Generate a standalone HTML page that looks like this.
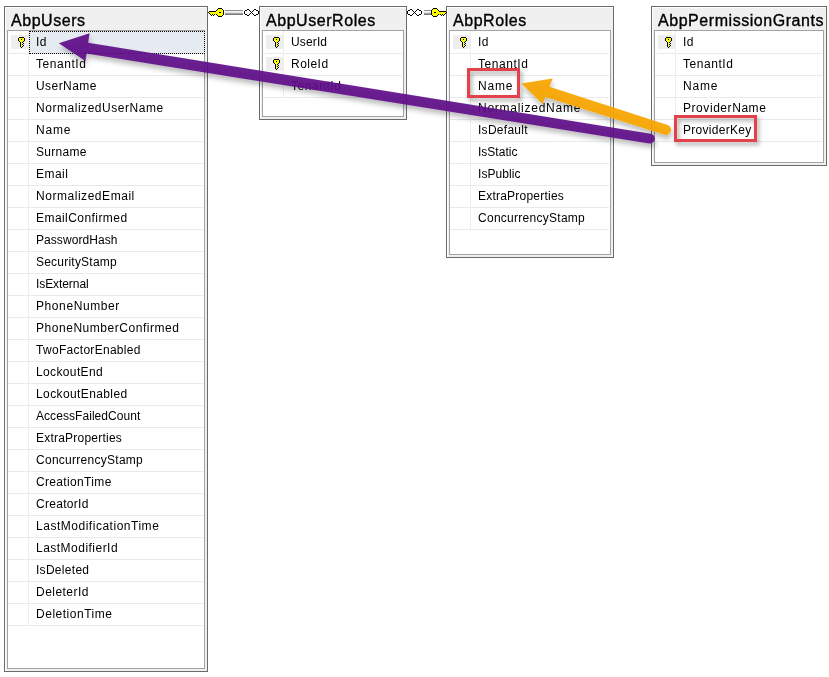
<!DOCTYPE html>
<html><head><meta charset="utf-8">
<style>
html,body{margin:0;padding:0;background:#fff;}
body{width:829px;height:677px;position:relative;overflow:hidden;will-change:transform;font-family:"Liberation Sans",sans-serif;}
.t{position:absolute;box-sizing:border-box;border:1px solid #6a6a6a;background:#f0f0f0;box-shadow:inset 1px 1px 0 #fff;}
.g{position:absolute;box-sizing:border-box;border:1px solid #a3a3a3;background:#fff;}
.ti{position:absolute;font-size:16px;line-height:16px;color:#000;white-space:nowrap;letter-spacing:0.55px;-webkit-text-stroke:0.35px #000;}
.r{position:absolute;font-size:12px;line-height:12px;color:#000;white-space:nowrap;letter-spacing:0.36px;}
.hl{position:absolute;height:1px;background:#eaeaea;}
.vl{position:absolute;width:1px;background:#eeeeee;}
.kb{position:absolute;background:#eeeeee;}
.k{position:absolute;}
.sel{position:absolute;box-sizing:border-box;background:#e6ebf1;border:1px dotted #000;}
svg{position:absolute;left:0;top:0;overflow:visible;}
</style></head><body>

<div class="t" style="left:4px;top:6px;width:204px;height:666px"></div>
<div class="g" style="left:7px;top:30px;width:198px;height:639px"></div>
<div class="ti" style="left:11px;top:13px">AbpUsers</div>
<div class="hl" style="left:8px;top:53px;width:195px"></div>
<div class="sel" style="left:29px;top:31px;width:176px;height:23px"></div>
<div class="kb" style="left:11px;top:35px;width:17px;height:14px"></div>
<svg class="k" style="left:18px;top:37px" width="7" height="11" viewBox="0 0 7 11" shape-rendering="crispEdges"><path fill="#ffff00" d="M1 1h5v3h-1v1h-1v5h-1v-9z M1 1h5v3h-5z"/><path fill="#000" d="M1 0h5v1h-5z M0 1h1v3h-1z M6 1h1v3h-1z M3 2h1v1h-1z M1 4h1v1h-1z M5 4h1v1h-1z M2 5h1v5h-1z M4 5h1v1h-1z M5 6h1v1h-1z M4 7h1v1h-1z M5 8h1v1h-1z M4 9h1v1h-1z M3 10h1v1h-1z"/></svg>
<div class="r" style="left:36px;top:36px;letter-spacing:0.40px">Id</div>
<div class="hl" style="left:8px;top:75px;width:195px"></div>
<div class="r" style="left:36px;top:58px;letter-spacing:0.54px">TenantId</div>
<div class="hl" style="left:8px;top:97px;width:195px"></div>
<div class="r" style="left:36px;top:80px;letter-spacing:0.44px">UserName</div>
<div class="hl" style="left:8px;top:119px;width:195px"></div>
<div class="r" style="left:36px;top:102px;letter-spacing:0.54px">NormalizedUserName</div>
<div class="hl" style="left:8px;top:141px;width:195px"></div>
<div class="r" style="left:36px;top:124px;letter-spacing:0.80px">Name</div>
<div class="hl" style="left:8px;top:163px;width:195px"></div>
<div class="r" style="left:36px;top:146px;letter-spacing:0.30px">Surname</div>
<div class="hl" style="left:8px;top:185px;width:195px"></div>
<div class="r" style="left:36px;top:168px;letter-spacing:0.45px">Email</div>
<div class="hl" style="left:8px;top:207px;width:195px"></div>
<div class="r" style="left:36px;top:190px;letter-spacing:0.54px">NormalizedEmail</div>
<div class="hl" style="left:8px;top:229px;width:195px"></div>
<div class="r" style="left:36px;top:212px;letter-spacing:0.44px">EmailConfirmed</div>
<div class="hl" style="left:8px;top:251px;width:195px"></div>
<div class="r" style="left:36px;top:234px;letter-spacing:0.06px">PasswordHash</div>
<div class="hl" style="left:8px;top:273px;width:195px"></div>
<div class="r" style="left:36px;top:256px;letter-spacing:0.22px">SecurityStamp</div>
<div class="hl" style="left:8px;top:295px;width:195px"></div>
<div class="r" style="left:36px;top:278px;letter-spacing:-0.08px">IsExternal</div>
<div class="hl" style="left:8px;top:317px;width:195px"></div>
<div class="r" style="left:36px;top:300px;letter-spacing:0.59px">PhoneNumber</div>
<div class="hl" style="left:8px;top:339px;width:195px"></div>
<div class="r" style="left:36px;top:322px;letter-spacing:0.54px">PhoneNumberConfirmed</div>
<div class="hl" style="left:8px;top:361px;width:195px"></div>
<div class="r" style="left:36px;top:344px;letter-spacing:0.29px">TwoFactorEnabled</div>
<div class="hl" style="left:8px;top:383px;width:195px"></div>
<div class="r" style="left:36px;top:366px;letter-spacing:0.37px">LockoutEnd</div>
<div class="hl" style="left:8px;top:405px;width:195px"></div>
<div class="r" style="left:36px;top:388px;letter-spacing:0.39px">LockoutEnabled</div>
<div class="hl" style="left:8px;top:427px;width:195px"></div>
<div class="r" style="left:36px;top:410px;letter-spacing:0.06px">AccessFailedCount</div>
<div class="hl" style="left:8px;top:449px;width:195px"></div>
<div class="r" style="left:36px;top:432px;letter-spacing:0.22px">ExtraProperties</div>
<div class="hl" style="left:8px;top:471px;width:195px"></div>
<div class="r" style="left:36px;top:454px;letter-spacing:0.27px">ConcurrencyStamp</div>
<div class="hl" style="left:8px;top:493px;width:195px"></div>
<div class="r" style="left:36px;top:476px;letter-spacing:0.34px">CreationTime</div>
<div class="hl" style="left:8px;top:515px;width:195px"></div>
<div class="r" style="left:36px;top:498px;letter-spacing:0.29px">CreatorId</div>
<div class="hl" style="left:8px;top:537px;width:195px"></div>
<div class="r" style="left:36px;top:520px;letter-spacing:0.52px">LastModificationTime</div>
<div class="hl" style="left:8px;top:559px;width:195px"></div>
<div class="r" style="left:36px;top:542px;letter-spacing:0.48px">LastModifierId</div>
<div class="hl" style="left:8px;top:581px;width:195px"></div>
<div class="r" style="left:36px;top:564px;letter-spacing:0.29px">IsDeleted</div>
<div class="hl" style="left:8px;top:603px;width:195px"></div>
<div class="r" style="left:36px;top:586px;letter-spacing:0.46px">DeleterId</div>
<div class="hl" style="left:8px;top:625px;width:195px"></div>
<div class="r" style="left:36px;top:608px;letter-spacing:0.52px">DeletionTime</div>
<div class="vl" style="left:28px;top:31px;height:594px"></div>
<div class="t" style="left:259px;top:6px;width:148px;height:114px"></div>
<div class="g" style="left:262px;top:30px;width:142px;height:87px"></div>
<div class="ti" style="left:266px;top:13px">AbpUserRoles</div>
<div class="hl" style="left:263px;top:53px;width:139px"></div>
<div class="kb" style="left:266px;top:35px;width:17px;height:14px"></div>
<svg class="k" style="left:273px;top:37px" width="7" height="11" viewBox="0 0 7 11" shape-rendering="crispEdges"><path fill="#ffff00" d="M1 1h5v3h-1v1h-1v5h-1v-9z M1 1h5v3h-5z"/><path fill="#000" d="M1 0h5v1h-5z M0 1h1v3h-1z M6 1h1v3h-1z M3 2h1v1h-1z M1 4h1v1h-1z M5 4h1v1h-1z M2 5h1v5h-1z M4 5h1v1h-1z M5 6h1v1h-1z M4 7h1v1h-1z M5 8h1v1h-1z M4 9h1v1h-1z M3 10h1v1h-1z"/></svg>
<div class="r" style="left:291px;top:36px;letter-spacing:0.14px">UserId</div>
<div class="hl" style="left:263px;top:75px;width:139px"></div>
<div class="kb" style="left:266px;top:57px;width:17px;height:14px"></div>
<svg class="k" style="left:273px;top:59px" width="7" height="11" viewBox="0 0 7 11" shape-rendering="crispEdges"><path fill="#ffff00" d="M1 1h5v3h-1v1h-1v5h-1v-9z M1 1h5v3h-5z"/><path fill="#000" d="M1 0h5v1h-5z M0 1h1v3h-1z M6 1h1v3h-1z M3 2h1v1h-1z M1 4h1v1h-1z M5 4h1v1h-1z M2 5h1v5h-1z M4 5h1v1h-1z M5 6h1v1h-1z M4 7h1v1h-1z M5 8h1v1h-1z M4 9h1v1h-1z M3 10h1v1h-1z"/></svg>
<div class="r" style="left:291px;top:58px;letter-spacing:0.48px">RoleId</div>
<div class="hl" style="left:263px;top:97px;width:139px"></div>
<div class="r" style="left:291px;top:80px;letter-spacing:0.54px">TenantId</div>
<div class="vl" style="left:283px;top:31px;height:66px"></div>
<div class="t" style="left:446px;top:6px;width:168px;height:252px"></div>
<div class="g" style="left:449px;top:30px;width:162px;height:225px"></div>
<div class="ti" style="left:453px;top:13px">AbpRoles</div>
<div class="hl" style="left:450px;top:53px;width:159px"></div>
<div class="kb" style="left:453px;top:35px;width:17px;height:14px"></div>
<svg class="k" style="left:460px;top:37px" width="7" height="11" viewBox="0 0 7 11" shape-rendering="crispEdges"><path fill="#ffff00" d="M1 1h5v3h-1v1h-1v5h-1v-9z M1 1h5v3h-5z"/><path fill="#000" d="M1 0h5v1h-5z M0 1h1v3h-1z M6 1h1v3h-1z M3 2h1v1h-1z M1 4h1v1h-1z M5 4h1v1h-1z M2 5h1v5h-1z M4 5h1v1h-1z M5 6h1v1h-1z M4 7h1v1h-1z M5 8h1v1h-1z M4 9h1v1h-1z M3 10h1v1h-1z"/></svg>
<div class="r" style="left:478px;top:36px;letter-spacing:0.40px">Id</div>
<div class="hl" style="left:450px;top:75px;width:159px"></div>
<div class="r" style="left:478px;top:58px;letter-spacing:0.54px">TenantId</div>
<div class="hl" style="left:450px;top:97px;width:159px"></div>
<div class="r" style="left:478px;top:80px;letter-spacing:0.80px">Name</div>
<div class="hl" style="left:450px;top:119px;width:159px"></div>
<div class="r" style="left:478px;top:102px;letter-spacing:0.74px">NormalizedName</div>
<div class="hl" style="left:450px;top:141px;width:159px"></div>
<div class="r" style="left:478px;top:124px;letter-spacing:0.28px">IsDefault</div>
<div class="hl" style="left:450px;top:163px;width:159px"></div>
<div class="r" style="left:478px;top:146px;letter-spacing:0.01px">IsStatic</div>
<div class="hl" style="left:450px;top:185px;width:159px"></div>
<div class="r" style="left:478px;top:168px;letter-spacing:0.06px">IsPublic</div>
<div class="hl" style="left:450px;top:207px;width:159px"></div>
<div class="r" style="left:478px;top:190px;letter-spacing:0.22px">ExtraProperties</div>
<div class="hl" style="left:450px;top:229px;width:159px"></div>
<div class="r" style="left:478px;top:212px;letter-spacing:0.27px">ConcurrencyStamp</div>
<div class="vl" style="left:470px;top:31px;height:198px"></div>
<div class="t" style="left:651px;top:6px;width:176px;height:160px"></div>
<div class="g" style="left:654px;top:30px;width:170px;height:133px"></div>
<div class="ti" style="left:658px;top:13px">AbpPermissionGrants</div>
<div class="hl" style="left:655px;top:53px;width:167px"></div>
<div class="kb" style="left:658px;top:35px;width:17px;height:14px"></div>
<svg class="k" style="left:665px;top:37px" width="7" height="11" viewBox="0 0 7 11" shape-rendering="crispEdges"><path fill="#ffff00" d="M1 1h5v3h-1v1h-1v5h-1v-9z M1 1h5v3h-5z"/><path fill="#000" d="M1 0h5v1h-5z M0 1h1v3h-1z M6 1h1v3h-1z M3 2h1v1h-1z M1 4h1v1h-1z M5 4h1v1h-1z M2 5h1v5h-1z M4 5h1v1h-1z M5 6h1v1h-1z M4 7h1v1h-1z M5 8h1v1h-1z M4 9h1v1h-1z M3 10h1v1h-1z"/></svg>
<div class="r" style="left:683px;top:36px;letter-spacing:0.40px">Id</div>
<div class="hl" style="left:655px;top:75px;width:167px"></div>
<div class="r" style="left:683px;top:58px;letter-spacing:0.54px">TenantId</div>
<div class="hl" style="left:655px;top:97px;width:167px"></div>
<div class="r" style="left:683px;top:80px;letter-spacing:0.80px">Name</div>
<div class="hl" style="left:655px;top:119px;width:167px"></div>
<div class="r" style="left:683px;top:102px;letter-spacing:0.56px">ProviderName</div>
<div class="hl" style="left:655px;top:141px;width:167px"></div>
<div class="r" style="left:683px;top:124px;letter-spacing:0.28px">ProviderKey</div>
<div class="vl" style="left:675px;top:31px;height:110px"></div>
<svg width="829" height="677" viewBox="0 0 829 677" shape-rendering="crispEdges"><rect x="218" y="8" width="1" height="1" fill="#000"/><rect x="219" y="8" width="1" height="1" fill="#000"/><rect x="220" y="8" width="1" height="1" fill="#000"/><rect x="221" y="8" width="1" height="1" fill="#000"/><rect x="217" y="9" width="1" height="1" fill="#000"/><rect x="218" y="9" width="1" height="1" fill="#ffff00"/><rect x="219" y="9" width="1" height="1" fill="#ffff00"/><rect x="220" y="9" width="1" height="1" fill="#ffff00"/><rect x="221" y="9" width="1" height="1" fill="#ffff00"/><rect x="222" y="9" width="1" height="1" fill="#000"/><rect x="216" y="10" width="1" height="1" fill="#000"/><rect x="217" y="10" width="1" height="1" fill="#ffff00"/><rect x="218" y="10" width="1" height="1" fill="#ffff00"/><rect x="219" y="10" width="1" height="1" fill="#ffff00"/><rect x="220" y="10" width="1" height="1" fill="#ffff00"/><rect x="221" y="10" width="1" height="1" fill="#ffff00"/><rect x="222" y="10" width="1" height="1" fill="#ffff00"/><rect x="223" y="10" width="1" height="1" fill="#000"/><rect x="209" y="11" width="1" height="1" fill="#000"/><rect x="210" y="11" width="1" height="1" fill="#000"/><rect x="211" y="11" width="1" height="1" fill="#000"/><rect x="212" y="11" width="1" height="1" fill="#000"/><rect x="213" y="11" width="1" height="1" fill="#000"/><rect x="214" y="11" width="1" height="1" fill="#000"/><rect x="215" y="11" width="1" height="1" fill="#000"/><rect x="216" y="11" width="1" height="1" fill="#ffff00"/><rect x="217" y="11" width="1" height="1" fill="#ffff00"/><rect x="218" y="11" width="1" height="1" fill="#ffff00"/><rect x="219" y="11" width="1" height="1" fill="#ffff00"/><rect x="220" y="11" width="1" height="1" fill="#ffff00"/><rect x="221" y="11" width="1" height="1" fill="#ffff00"/><rect x="222" y="11" width="1" height="1" fill="#ffff00"/><rect x="223" y="11" width="1" height="1" fill="#000"/><rect x="208" y="12" width="1" height="1" fill="#000"/><rect x="209" y="12" width="1" height="1" fill="#ffff00"/><rect x="210" y="12" width="1" height="1" fill="#ffff00"/><rect x="211" y="12" width="1" height="1" fill="#ffff00"/><rect x="212" y="12" width="1" height="1" fill="#ffff00"/><rect x="213" y="12" width="1" height="1" fill="#ffff00"/><rect x="214" y="12" width="1" height="1" fill="#ffff00"/><rect x="215" y="12" width="1" height="1" fill="#ffff00"/><rect x="216" y="12" width="1" height="1" fill="#ffff00"/><rect x="217" y="12" width="1" height="1" fill="#ffff00"/><rect x="218" y="12" width="1" height="1" fill="#ffff00"/><rect x="219" y="12" width="1" height="1" fill="#000"/><rect x="220" y="12" width="1" height="1" fill="#000"/><rect x="221" y="12" width="1" height="1" fill="#ffff00"/><rect x="222" y="12" width="1" height="1" fill="#ffff00"/><rect x="223" y="12" width="1" height="1" fill="#000"/><rect x="209" y="13" width="1" height="1" fill="#000"/><rect x="210" y="13" width="1" height="1" fill="#ffff00"/><rect x="211" y="13" width="1" height="1" fill="#ffff00"/><rect x="212" y="13" width="1" height="1" fill="#ffff00"/><rect x="213" y="13" width="1" height="1" fill="#ffff00"/><rect x="214" y="13" width="1" height="1" fill="#ffff00"/><rect x="215" y="13" width="1" height="1" fill="#ffff00"/><rect x="216" y="13" width="1" height="1" fill="#ffff00"/><rect x="217" y="13" width="1" height="1" fill="#ffff00"/><rect x="218" y="13" width="1" height="1" fill="#ffff00"/><rect x="219" y="13" width="1" height="1" fill="#ffff00"/><rect x="220" y="13" width="1" height="1" fill="#ffff00"/><rect x="221" y="13" width="1" height="1" fill="#ffff00"/><rect x="222" y="13" width="1" height="1" fill="#ffff00"/><rect x="223" y="13" width="1" height="1" fill="#000"/><rect x="210" y="14" width="1" height="1" fill="#000"/><rect x="211" y="14" width="1" height="1" fill="#ffff00"/><rect x="212" y="14" width="1" height="1" fill="#000"/><rect x="213" y="14" width="1" height="1" fill="#ffff00"/><rect x="214" y="14" width="1" height="1" fill="#000"/><rect x="215" y="14" width="1" height="1" fill="#ffff00"/><rect x="216" y="14" width="1" height="1" fill="#000"/><rect x="217" y="14" width="1" height="1" fill="#ffff00"/><rect x="218" y="14" width="1" height="1" fill="#ffff00"/><rect x="219" y="14" width="1" height="1" fill="#ffff00"/><rect x="220" y="14" width="1" height="1" fill="#ffff00"/><rect x="221" y="14" width="1" height="1" fill="#ffff00"/><rect x="222" y="14" width="1" height="1" fill="#ffff00"/><rect x="223" y="14" width="1" height="1" fill="#000"/><rect x="211" y="15" width="1" height="1" fill="#000"/><rect x="213" y="15" width="1" height="1" fill="#000"/><rect x="217" y="15" width="1" height="1" fill="#000"/><rect x="218" y="15" width="1" height="1" fill="#ffff00"/><rect x="219" y="15" width="1" height="1" fill="#ffff00"/><rect x="220" y="15" width="1" height="1" fill="#ffff00"/><rect x="221" y="15" width="1" height="1" fill="#ffff00"/><rect x="222" y="15" width="1" height="1" fill="#000"/><rect x="218" y="16" width="1" height="1" fill="#000"/><rect x="219" y="16" width="1" height="1" fill="#000"/><rect x="220" y="16" width="1" height="1" fill="#000"/><rect x="221" y="16" width="1" height="1" fill="#000"/><rect x="225" y="10" width="18" height="1" fill="#8e8e8e"/><rect x="225" y="11" width="18" height="1" fill="#f6f6f6"/><rect x="225" y="12" width="18" height="1" fill="#e2e2e2"/><rect x="225" y="13" width="18" height="1" fill="#a4a4a4"/><rect x="225" y="14" width="18" height="1" fill="#7a7a7a"/><rect x="247" y="9" width="1" height="1" fill="#000"/><rect x="248" y="9" width="1" height="1" fill="#000"/><rect x="254" y="9" width="1" height="1" fill="#000"/><rect x="255" y="9" width="1" height="1" fill="#000"/><rect x="245" y="10" width="1" height="1" fill="#000"/><rect x="246" y="10" width="1" height="1" fill="#000"/><rect x="249" y="10" width="1" height="1" fill="#000"/><rect x="253" y="10" width="1" height="1" fill="#000"/><rect x="256" y="10" width="1" height="1" fill="#000"/><rect x="257" y="10" width="1" height="1" fill="#000"/><rect x="244" y="11" width="1" height="1" fill="#000"/><rect x="250" y="11" width="1" height="1" fill="#000"/><rect x="252" y="11" width="1" height="1" fill="#000"/><rect x="258" y="11" width="1" height="1" fill="#000"/><rect x="244" y="12" width="1" height="1" fill="#000"/><rect x="251" y="12" width="1" height="1" fill="#000"/><rect x="258" y="12" width="1" height="1" fill="#000"/><rect x="244" y="13" width="1" height="1" fill="#000"/><rect x="250" y="13" width="1" height="1" fill="#000"/><rect x="252" y="13" width="1" height="1" fill="#000"/><rect x="258" y="13" width="1" height="1" fill="#000"/><rect x="245" y="14" width="1" height="1" fill="#000"/><rect x="246" y="14" width="1" height="1" fill="#000"/><rect x="249" y="14" width="1" height="1" fill="#000"/><rect x="253" y="14" width="1" height="1" fill="#000"/><rect x="256" y="14" width="1" height="1" fill="#000"/><rect x="257" y="14" width="1" height="1" fill="#000"/><rect x="247" y="15" width="1" height="1" fill="#000"/><rect x="248" y="15" width="1" height="1" fill="#000"/><rect x="254" y="15" width="1" height="1" fill="#000"/><rect x="255" y="15" width="1" height="1" fill="#000"/><rect x="410" y="9" width="1" height="1" fill="#000"/><rect x="411" y="9" width="1" height="1" fill="#000"/><rect x="417" y="9" width="1" height="1" fill="#000"/><rect x="418" y="9" width="1" height="1" fill="#000"/><rect x="408" y="10" width="1" height="1" fill="#000"/><rect x="409" y="10" width="1" height="1" fill="#000"/><rect x="412" y="10" width="1" height="1" fill="#000"/><rect x="416" y="10" width="1" height="1" fill="#000"/><rect x="419" y="10" width="1" height="1" fill="#000"/><rect x="420" y="10" width="1" height="1" fill="#000"/><rect x="407" y="11" width="1" height="1" fill="#000"/><rect x="413" y="11" width="1" height="1" fill="#000"/><rect x="415" y="11" width="1" height="1" fill="#000"/><rect x="421" y="11" width="1" height="1" fill="#000"/><rect x="407" y="12" width="1" height="1" fill="#000"/><rect x="414" y="12" width="1" height="1" fill="#000"/><rect x="421" y="12" width="1" height="1" fill="#000"/><rect x="407" y="13" width="1" height="1" fill="#000"/><rect x="413" y="13" width="1" height="1" fill="#000"/><rect x="415" y="13" width="1" height="1" fill="#000"/><rect x="421" y="13" width="1" height="1" fill="#000"/><rect x="408" y="14" width="1" height="1" fill="#000"/><rect x="409" y="14" width="1" height="1" fill="#000"/><rect x="412" y="14" width="1" height="1" fill="#000"/><rect x="416" y="14" width="1" height="1" fill="#000"/><rect x="419" y="14" width="1" height="1" fill="#000"/><rect x="420" y="14" width="1" height="1" fill="#000"/><rect x="410" y="15" width="1" height="1" fill="#000"/><rect x="411" y="15" width="1" height="1" fill="#000"/><rect x="417" y="15" width="1" height="1" fill="#000"/><rect x="418" y="15" width="1" height="1" fill="#000"/><rect x="424" y="10" width="7" height="1" fill="#8e8e8e"/><rect x="424" y="11" width="7" height="1" fill="#f6f6f6"/><rect x="424" y="12" width="7" height="1" fill="#e2e2e2"/><rect x="424" y="13" width="7" height="1" fill="#a4a4a4"/><rect x="424" y="14" width="7" height="1" fill="#7a7a7a"/><rect x="436" y="8" width="1" height="1" fill="#000"/><rect x="435" y="8" width="1" height="1" fill="#000"/><rect x="434" y="8" width="1" height="1" fill="#000"/><rect x="433" y="8" width="1" height="1" fill="#000"/><rect x="437" y="9" width="1" height="1" fill="#000"/><rect x="436" y="9" width="1" height="1" fill="#ffff00"/><rect x="435" y="9" width="1" height="1" fill="#ffff00"/><rect x="434" y="9" width="1" height="1" fill="#ffff00"/><rect x="433" y="9" width="1" height="1" fill="#ffff00"/><rect x="432" y="9" width="1" height="1" fill="#000"/><rect x="438" y="10" width="1" height="1" fill="#000"/><rect x="437" y="10" width="1" height="1" fill="#ffff00"/><rect x="436" y="10" width="1" height="1" fill="#ffff00"/><rect x="435" y="10" width="1" height="1" fill="#ffff00"/><rect x="434" y="10" width="1" height="1" fill="#ffff00"/><rect x="433" y="10" width="1" height="1" fill="#ffff00"/><rect x="432" y="10" width="1" height="1" fill="#ffff00"/><rect x="431" y="10" width="1" height="1" fill="#000"/><rect x="445" y="11" width="1" height="1" fill="#000"/><rect x="444" y="11" width="1" height="1" fill="#000"/><rect x="443" y="11" width="1" height="1" fill="#000"/><rect x="442" y="11" width="1" height="1" fill="#000"/><rect x="441" y="11" width="1" height="1" fill="#000"/><rect x="440" y="11" width="1" height="1" fill="#000"/><rect x="439" y="11" width="1" height="1" fill="#000"/><rect x="438" y="11" width="1" height="1" fill="#ffff00"/><rect x="437" y="11" width="1" height="1" fill="#ffff00"/><rect x="436" y="11" width="1" height="1" fill="#ffff00"/><rect x="435" y="11" width="1" height="1" fill="#ffff00"/><rect x="434" y="11" width="1" height="1" fill="#ffff00"/><rect x="433" y="11" width="1" height="1" fill="#ffff00"/><rect x="432" y="11" width="1" height="1" fill="#ffff00"/><rect x="431" y="11" width="1" height="1" fill="#000"/><rect x="446" y="12" width="1" height="1" fill="#000"/><rect x="445" y="12" width="1" height="1" fill="#ffff00"/><rect x="444" y="12" width="1" height="1" fill="#ffff00"/><rect x="443" y="12" width="1" height="1" fill="#ffff00"/><rect x="442" y="12" width="1" height="1" fill="#ffff00"/><rect x="441" y="12" width="1" height="1" fill="#ffff00"/><rect x="440" y="12" width="1" height="1" fill="#ffff00"/><rect x="439" y="12" width="1" height="1" fill="#ffff00"/><rect x="438" y="12" width="1" height="1" fill="#ffff00"/><rect x="437" y="12" width="1" height="1" fill="#ffff00"/><rect x="436" y="12" width="1" height="1" fill="#ffff00"/><rect x="435" y="12" width="1" height="1" fill="#000"/><rect x="434" y="12" width="1" height="1" fill="#000"/><rect x="433" y="12" width="1" height="1" fill="#ffff00"/><rect x="432" y="12" width="1" height="1" fill="#ffff00"/><rect x="431" y="12" width="1" height="1" fill="#000"/><rect x="445" y="13" width="1" height="1" fill="#000"/><rect x="444" y="13" width="1" height="1" fill="#ffff00"/><rect x="443" y="13" width="1" height="1" fill="#ffff00"/><rect x="442" y="13" width="1" height="1" fill="#ffff00"/><rect x="441" y="13" width="1" height="1" fill="#ffff00"/><rect x="440" y="13" width="1" height="1" fill="#ffff00"/><rect x="439" y="13" width="1" height="1" fill="#ffff00"/><rect x="438" y="13" width="1" height="1" fill="#ffff00"/><rect x="437" y="13" width="1" height="1" fill="#ffff00"/><rect x="436" y="13" width="1" height="1" fill="#ffff00"/><rect x="435" y="13" width="1" height="1" fill="#ffff00"/><rect x="434" y="13" width="1" height="1" fill="#ffff00"/><rect x="433" y="13" width="1" height="1" fill="#ffff00"/><rect x="432" y="13" width="1" height="1" fill="#ffff00"/><rect x="431" y="13" width="1" height="1" fill="#000"/><rect x="444" y="14" width="1" height="1" fill="#000"/><rect x="443" y="14" width="1" height="1" fill="#ffff00"/><rect x="442" y="14" width="1" height="1" fill="#000"/><rect x="441" y="14" width="1" height="1" fill="#ffff00"/><rect x="440" y="14" width="1" height="1" fill="#000"/><rect x="439" y="14" width="1" height="1" fill="#ffff00"/><rect x="438" y="14" width="1" height="1" fill="#000"/><rect x="437" y="14" width="1" height="1" fill="#ffff00"/><rect x="436" y="14" width="1" height="1" fill="#ffff00"/><rect x="435" y="14" width="1" height="1" fill="#ffff00"/><rect x="434" y="14" width="1" height="1" fill="#ffff00"/><rect x="433" y="14" width="1" height="1" fill="#ffff00"/><rect x="432" y="14" width="1" height="1" fill="#ffff00"/><rect x="431" y="14" width="1" height="1" fill="#000"/><rect x="443" y="15" width="1" height="1" fill="#000"/><rect x="441" y="15" width="1" height="1" fill="#000"/><rect x="437" y="15" width="1" height="1" fill="#000"/><rect x="436" y="15" width="1" height="1" fill="#ffff00"/><rect x="435" y="15" width="1" height="1" fill="#ffff00"/><rect x="434" y="15" width="1" height="1" fill="#ffff00"/><rect x="433" y="15" width="1" height="1" fill="#ffff00"/><rect x="432" y="15" width="1" height="1" fill="#000"/><rect x="436" y="16" width="1" height="1" fill="#000"/><rect x="435" y="16" width="1" height="1" fill="#000"/><rect x="434" y="16" width="1" height="1" fill="#000"/><rect x="433" y="16" width="1" height="1" fill="#000"/></svg>
<svg width="829" height="677" viewBox="0 0 829 677">
<defs>
<filter id="sh" x="-20%" y="-50%" width="140%" height="200%">
<feDropShadow dx="2" dy="3" stdDeviation="2" flood-color="#000" flood-opacity="0.35"/>
</filter>
</defs>
<g filter="url(#sh)" fill="none" stroke="#e2434b" stroke-width="3">
<rect x="468.5" y="69.5" width="50" height="27"/>
<rect x="675.5" y="116.5" width="80" height="24"/>
</g>

</svg>
<svg width="829" height="677" viewBox="0 0 829 677" ><defs><filter id="sh2" x="-20%" y="-50%" width="140%" height="200%"><feDropShadow dx="1" dy="4" stdDeviation="2.5" flood-color="#000" flood-opacity="0.28"/></filter></defs>
<g filter="url(#sh2)"><path d="M521.20 83.40 L552.70 78.40 L549.37 86.84 L667.55 124.94 A5.10 5.10 0 0 1 664.45 134.66 L545.32 97.11 L542.60 104.00 Z" fill="#f8a600" fill-opacity="0.93"/><path d="M58.80 43.20 L89.60 33.30 L88.16 42.84 L650.78 133.76 A4.90 4.90 0 0 1 649.22 143.44 L86.55 53.52 L85.40 61.10 Z" fill="#5e0f88" fill-opacity="0.92"/></g>
</svg>
</body></html>
